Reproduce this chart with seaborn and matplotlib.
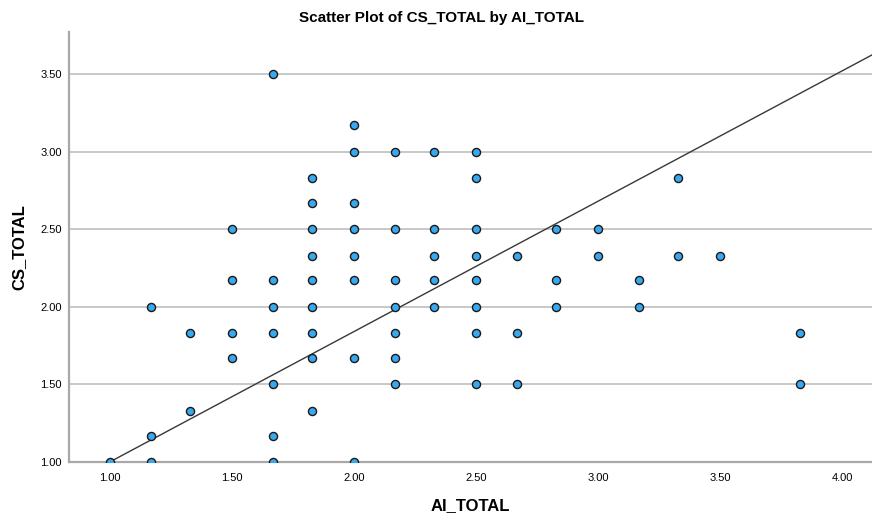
import matplotlib
matplotlib.use("Agg")
import matplotlib.pyplot as plt
import seaborn as sns
import pandas as pd

# ---------------------------
# data (values on a 1/6 grid)
# ---------------------------
ai_total = (
    [1.00]
    + [1.17] * 3
    + [1.33] * 2
    + [1.50] * 4
    + [1.67] * 7
    + [1.83] * 9
    + [2.00] * 8
    + [2.17] * 7
    + [2.33] * 5
    + [2.50] * 8
    + [2.67] * 3
    + [2.83] * 3
    + [3.00] * 2
    + [3.17] * 2
    + [3.33] * 2
    + [3.50]
    + [3.83] * 2
)
cs_total = [
    1.00,
    2.00, 1.17, 1.00,
    1.83, 1.33,
    2.50, 2.17, 1.83, 1.67,
    3.50, 2.17, 2.00, 1.83, 1.50, 1.17, 1.00,
    2.83, 2.67, 2.50, 2.33, 2.17, 2.00, 1.83, 1.67, 1.33,
    3.17, 3.00, 2.67, 2.50, 2.33, 2.17, 1.67, 1.00,
    3.00, 2.50, 2.17, 2.00, 1.83, 1.67, 1.50,
    3.00, 2.50, 2.33, 2.17, 2.00,
    3.00, 2.83, 2.50, 2.33, 2.17, 2.00, 1.83, 1.50,
    2.33, 1.83, 1.50,
    2.50, 2.17, 2.00,
    2.50, 2.33,
    2.17, 2.00,
    2.83, 2.33,
    2.33,
    1.83, 1.50,
]

# fit line as drawn in the chart
fit_intercept = 0.16
fit_slope = 0.84

x_ticks = [1.0, 1.5, 2.0, 2.5, 3.0, 3.5, 4.0]
y_ticks = [1.0, 1.5, 2.0, 2.5, 3.0, 3.5]

df = pd.DataFrame({"AI_TOTAL": ai_total, "CS_TOTAL": cs_total})

# ---------------------------
# plot
# ---------------------------
sns.set_style("white")
plt.rcParams["font.family"] = ["Liberation Sans", "DejaVu Sans"]
plt.rcParams["text.color"] = "black"
plt.rcParams["axes.labelcolor"] = "black"
plt.rcParams["xtick.color"] = "black"
plt.rcParams["ytick.color"] = "black"

fig = plt.figure(figsize=(8.72, 5.19), dpi=100)
ax = fig.add_axes([0.079, 0.110, 0.921, 0.828])

ax.axline((0, fit_intercept), slope=fit_slope, color="#383838", lw=1.0, zorder=2)

sns.scatterplot(data=df, x="AI_TOTAL", y="CS_TOTAL", ax=ax,
                color="#38a9f0", edgecolor="#1a1a1a", linewidth=1.0,
                s=34, zorder=3, clip_on=True)

ax.set_xlim(0.832, 4.123)
ax.set_ylim(1.0, 3.77)
ax.set_xticks(x_ticks)
ax.set_yticks(y_ticks)
ax.set_xticklabels([f"{t:.2f}" for t in x_ticks], fontsize=8)
ax.set_yticklabels([f"{t:.2f}" for t in y_ticks], fontsize=8)
ax.tick_params(axis="x", length=0, pad=8)
ax.tick_params(axis="y", length=0, pad=5)

ax.yaxis.grid(True, color="#c8c8c8", lw=1.4)
ax.set_axisbelow(True)

for side in ["top", "right"]:
    ax.spines[side].set_visible(False)
for side in ["left", "bottom"]:
    ax.spines[side].set_color("#a8a8a8")
    ax.spines[side].set_linewidth(1.6)

ax.set_xlabel("AI_TOTAL", fontsize=12, fontweight="bold", labelpad=11)
ax.set_ylabel("CS_TOTAL", fontsize=12, fontweight="bold", labelpad=10)

fig.suptitle("Scatter Plot of CS_TOTAL by AI_TOTAL", x=0.506, y=0.978,
             fontsize=11, fontweight="bold")

fig.savefig("out.png", dpi=100)
